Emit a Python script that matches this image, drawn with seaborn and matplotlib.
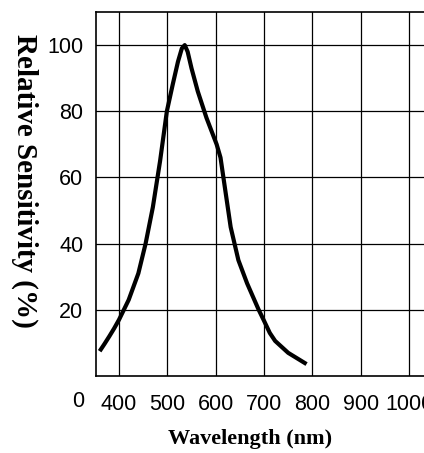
import numpy as np
import pandas as pd
import seaborn as sns
import matplotlib.pyplot as plt

# spectral response curve
wavelength = [360, 370, 380, 390, 400, 420, 440, 455, 470, 485, 499, 511, 522,
              530, 536, 542, 550, 563, 581, 602, 610, 616, 631, 647, 665, 689,
              700, 712, 723, 750, 788]
sensitivity = [7.5, 9.7, 12, 14.4, 17, 23, 31, 40, 51, 65, 80, 88, 95,
               99, 100, 98, 93, 86, 78, 70, 66, 60, 45, 35, 28, 20,
               16.7, 13, 10.6, 7, 3.6]

x_ticks = [400, 500, 600, 700, 800, 900, 1000]
y_ticks = [20, 40, 60, 80, 100]

df = pd.DataFrame({"wavelength": wavelength, "sensitivity": sensitivity})

sns.set_style("white")
plt.rcParams["font.family"] = ["Liberation Sans", "DejaVu Sans"]
plt.rcParams["text.color"] = "black"
plt.rcParams["axes.labelcolor"] = "black"
plt.rcParams["xtick.color"] = "black"
plt.rcParams["ytick.color"] = "black"

fig = plt.figure(figsize=(4.24, 4.53), dpi=100)
ax = fig.add_axes([96 / 424, 77 / 453, 328 / 424, 364 / 453])

sns.lineplot(data=df, x="wavelength", y="sensitivity", color="black",
             linewidth=3.0, ax=ax, sort=False)
ax.lines[0].set_solid_joinstyle("round")
ax.lines[0].set_solid_capstyle("butt")

ax.set_xlim(352.4, 1031)
ax.set_ylim(0, 110)
ax.set_xticks(x_ticks)
ax.set_yticks(y_ticks)

ax.grid(True, color="black", linewidth=0.9)
for side in ["left", "bottom", "top"]:
    ax.spines[side].set_color("black")
    ax.spines[side].set_linewidth(1.2)
ax.spines["right"].set_visible(False)

ax.tick_params(axis="x", length=0, pad=13, labelsize=15.5)
ax.tick_params(axis="y", length=0, pad=9, labelsize=15.5)

# the lone "0" at the corner
ax.text(-0.055, -0.071, "0", transform=ax.transAxes, ha="center",
        va="center", fontsize=15.5)

serif = ["Liberation Serif", "DejaVu Serif"]
ax.set_xlabel("Wavelength (nm)", family=serif, fontweight="bold", fontsize=16)
ax.xaxis.set_label_coords(0.47, -0.145)
ax.set_ylabel("Relative Sensitivity (%)", family=serif, fontweight="bold",
              fontsize=21, rotation=-90, va="center")
ax.yaxis.set_label_coords(-0.216, 0.536)

plt.savefig("out.png", dpi=100)
